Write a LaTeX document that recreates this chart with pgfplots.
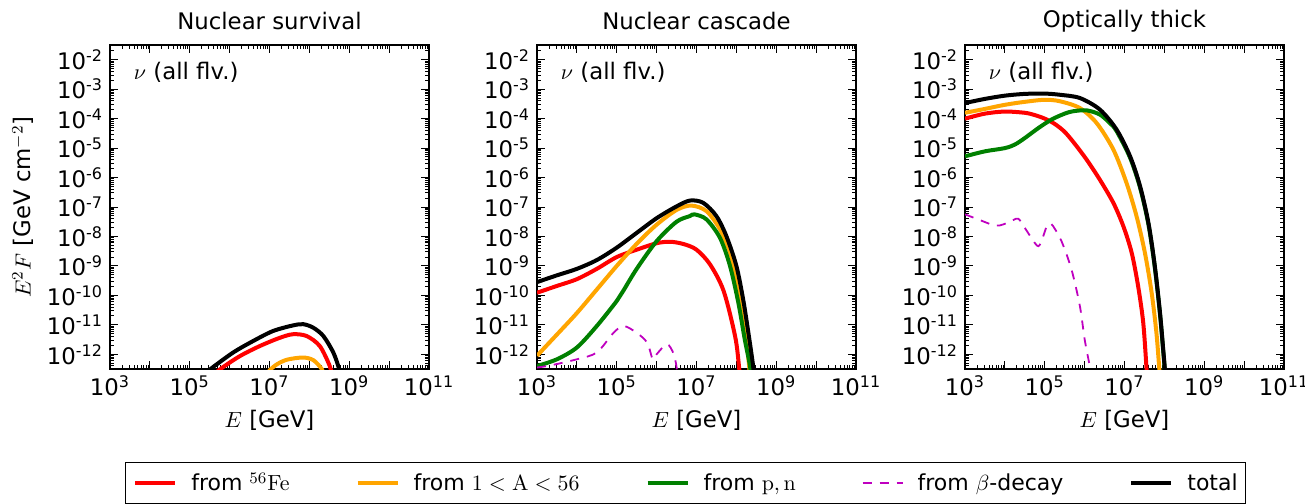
\documentclass[border=0pt]{standalone}
\usepackage[no-math]{fontspec}
\setmainfont{DejaVu Sans}
\usepackage{pgfplots}
\pgfplotsset{compat=1.18}
\definecolor{cRed}{RGB}{255,0,0}
\definecolor{cOrange}{RGB}{255,165,0}
\definecolor{cGreen}{RGB}{0,128,0}
\definecolor{cMag}{rgb}{0.75,0,0.75}
\newcommand{\sfs}{\fontsize{11.4}{13}\selectfont}
\pgfplotsset{every axis/.append style={
    width=159.5pt, height=162pt, scale only axis,
    xmin=1e3, xmax=1e11, ymin=3.1623e-13, ymax=3.1623e-2,
    xtick={1e3,1e4,1e5,1e6,1e7,1e8,1e9,1e10,1e11},
    xticklabels={10\textsuperscript{3},,10\textsuperscript{5},,10\textsuperscript{7},,10\textsuperscript{9},,10\textsuperscript{11}},
    ytick={1e-12,1e-11,1e-10,1e-9,1e-8,1e-7,1e-6,1e-5,1e-4,1e-3,1e-2},
    yticklabels={10\textsuperscript{-12},10\textsuperscript{-11},10\textsuperscript{-10},10\textsuperscript{-9},10\textsuperscript{-8},10\textsuperscript{-7},10\textsuperscript{-6},10\textsuperscript{-5},10\textsuperscript{-4},10\textsuperscript{-3},10\textsuperscript{-2}},
    minor xtick={2e3,3e3,4e3,5e3,6e3,7e3,8e3,9e3,2e4,3e4,4e4,5e4,6e4,7e4,8e4,9e4,2e5,3e5,4e5,5e5,6e5,7e5,8e5,9e5,2e6,3e6,4e6,5e6,6e6,7e6,8e6,9e6,2e7,3e7,4e7,5e7,6e7,7e7,8e7,9e7,2e8,3e8,4e8,5e8,6e8,7e8,8e8,9e8,2e9,3e9,4e9,5e9,6e9,7e9,8e9,9e9,2e10,3e10,4e10,5e10,6e10,7e10,8e10,9e10},
    minor ytick={4e-13,5e-13,6e-13,7e-13,8e-13,9e-13,2e-12,3e-12,4e-12,5e-12,6e-12,7e-12,8e-12,9e-12,2e-11,3e-11,4e-11,5e-11,6e-11,7e-11,8e-11,9e-11,2e-10,3e-10,4e-10,5e-10,6e-10,7e-10,8e-10,9e-10,2e-9,3e-9,4e-9,5e-9,6e-9,7e-9,8e-9,9e-9,2e-8,3e-8,4e-8,5e-8,6e-8,7e-8,8e-8,9e-8,2e-7,3e-7,4e-7,5e-7,6e-7,7e-7,8e-7,9e-7,2e-6,3e-6,4e-6,5e-6,6e-6,7e-6,8e-6,9e-6,2e-5,3e-5,4e-5,5e-5,6e-5,7e-5,8e-5,9e-5,2e-4,3e-4,4e-4,5e-4,6e-4,7e-4,8e-4,9e-4,2e-3,3e-3,4e-3,5e-3,6e-3,7e-3,8e-3,9e-3,2e-2,3e-2},
    tick align=inside, xtick pos=both, ytick pos=both,
    major tick length=4pt, minor tick length=2pt,
    every tick/.style={black, line width=0.5pt},
    axis line style={line width=1pt},
    tick label style={font=\sfs},
    title style={at={(0.5,1.074)}, anchor=center, yshift=-6pt, font=\sfs},
    xlabel={$E$ [GeV]},
    xlabel style={at={(0.5,-0.157)}, anchor=center, font=\sfs},
  },
  every axis plot/.append style={line width=2pt, smooth, tension=0.5},
}
\begin{document}
\begin{tikzpicture}
\useasboundingbox (0,0) rectangle (652.5pt,251.5pt);
% ---------------- Panel 1
\begin{loglogaxis}[at={(55pt,67pt)}, anchor=south west,
  title={Nuclear survival},
  ylabel={$E^2F$ [GeV cm$^{-2}$]},
  ylabel style={at={(-0.273,0.5)}, anchor=center, font=\sfs}]
\addplot[cRed] coordinates {(3.55e5,1.78e-13)(6.31e5,3.39e-13)(1.82e6,8.71e-13)(5.75e6,1.91e-12)(1.82e7,3.63e-12)(3.89e7,4.79e-12)(8.51e7,4.17e-12)(1.82e8,1.91e-12)(3.24e8,3.98e-13)(3.98e8,1.26e-13)};
\addplot[cOrange] coordinates {(7.94e6,1.58e-13)(1e7,2.82e-13)(1.58e7,4.68e-13)(2.82e7,6.61e-13)(6.92e7,7.76e-13)(1.26e8,6.31e-13)(2.04e8,3.16e-13)(2.51e8,1.58e-13)};
\addplot[black] coordinates {(2.0e5,1.78e-13)(3.55e5,3.39e-13)(1.23e6,1.15e-12)(3.89e6,2.82e-12)(1.23e7,6.17e-12)(3.89e7,9.55e-12)(7.08e7,1.05e-11)(1.26e8,7.94e-12)(2.24e8,4.17e-12)(3.98e8,1.15e-12)(5.50e8,3.39e-13)(6.61e8,1.26e-13)};
\node[anchor=west, font=\sfs] at (axis description cs:0.053,0.917) {$\nu$ (all flv.)};
\end{loglogaxis}
% ---------------- Panel 2
\begin{loglogaxis}[at={(268.5pt,67pt)}, anchor=south west,
  title={Nuclear cascade},
  legend columns=5,
  legend style={at={(0.4655,-0.287)}, anchor=north,
    draw=black, line width=0.7pt, font=\fontsize{11}{13}\selectfont,
    inner xsep=4pt, inner ysep=4pt,
    nodes={inner xsep=0pt, inner ysep=1pt},
    /tikz/every odd column/.append style={column sep=7pt},
    /tikz/every even column/.append style={column sep=33pt}},
  legend image code/.code={\draw[#1] (0pt,0pt) -- (20pt,0pt);}]
\addplot[cRed] coordinates {(1e3,1.23e-10)(3.16e3,2.09e-10)(1e4,3.55e-10)(3.16e4,7.94e-10)(1e5,2.0e-9)(3.16e5,3.55e-9)(1e6,5.89e-9)(2.19e6,6.61e-9)(4.79e6,5.50e-9)(1e7,3.55e-9)(2.19e7,1.12e-9)(4.79e7,1.41e-10)(9.33e7,3.98e-12)(1.17e8,3.55e-13)(1.29e8,6.31e-14)};
\addlegendentry{from $^{56}\mathrm{Fe}$}
\addplot[cOrange] coordinates {(1e3,8.91e-13)(3.16e3,4.68e-12)(1e4,2.51e-11)(3.16e4,1.58e-10)(1e5,1e-9)(3.16e5,5.62e-9)(1e6,2.51e-8)(3.16e6,7.94e-8)(7.41e6,1.12e-7)(1.78e7,7.24e-8)(3.89e7,1.74e-8)(6.92e7,2.82e-9)(1.12e8,2.09e-10)(1.62e8,9.12e-12)(2.09e8,3.98e-13)(2.34e8,6.31e-14)};
\addlegendentry{from $1<\mathrm{A}<56$}
\addplot[cGreen] coordinates {(1e3,3.98e-13)(3.16e3,6.76e-13)(1e4,1.70e-12)(3.16e4,9.12e-12)(1e5,6.46e-11)(1.45e5,1.41e-10)(3.16e5,7.94e-10)(1e6,6.92e-9)(3.16e6,3.16e-8)(6.76e6,4.90e-8)(8.91e6,5.62e-8)(1.78e7,3.80e-8)(3.89e7,8.91e-9)(6.92e7,1e-9)(1.12e8,5.62e-11)(1.62e8,3.24e-12)(2.19e8,3.98e-13)(2.51e8,6.31e-14)};
\addlegendentry{from $\mathrm{p,n}$}
\addplot[color=cMag, line width=0.9pt, dash pattern=on 4.5pt off 4pt] coordinates {(1e3,3.55e-13)(2.14e3,4.17e-13)(1e4,6.76e-13)(3.16e4,1.15e-12)(8.32e4,5.37e-12)(1.48e5,9.12e-12)(3.16e5,5.37e-12)(5.75e5,2.51e-12)(7.59e5,7.94e-13)(8.32e5,6.76e-13)(1e6,1e-12)(1.82e6,2.19e-12)(2.69e6,1e-12)(3.31e6,2.51e-13)(3.63e6,6.31e-14)};
\addlegendentry{from $\beta$-decay}
\addplot[black] coordinates {(1e3,2.82e-10)(3.16e3,4.79e-10)(1e4,7.94e-10)(3.16e4,1.58e-9)(1e5,4.17e-9)(3.16e5,1.32e-8)(1e6,4.17e-8)(3.16e6,1.05e-7)(6.92e6,1.66e-7)(1.48e7,1.38e-7)(3.16e7,4.90e-8)(5.62e7,1.02e-8)(1e8,1e-9)(1.48e8,7.24e-11)(2.0e8,5.37e-12)(2.63e8,3.98e-13)(2.95e8,6.31e-14)};
\addlegendentry{total}
\node[anchor=west, font=\sfs] at (axis description cs:0.053,0.917) {$\nu$ (all flv.)};
\end{loglogaxis}
% ---------------- Panel 3
\begin{loglogaxis}[at={(482.5pt,67pt)}, anchor=south west,
  title={Optically thick}]
\addplot[cRed] coordinates {(1e3,1.0e-4)(3.16e3,1.48e-4)(1e4,1.74e-4)(3.16e4,1.58e-4)(5.62e4,1.32e-4)(1e5,1e-4)(1.78e5,6.61e-5)(3.16e5,3.55e-5)(5.62e5,1.41e-5)(1.12e6,4.07e-6)(2.40e6,8.51e-7)(5.25e6,1.38e-7)(9.33e6,2.24e-8)(1.51e7,2.82e-9)(2.19e7,2.09e-10)(2.95e7,1.17e-11)(3.55e7,3.55e-13)(3.80e7,6.31e-14)};
\addplot[cOrange] coordinates {(1e3,1.58e-4)(3.16e3,2.14e-4)(1e4,2.95e-4)(3.16e4,3.72e-4)(1e5,4.37e-4)(2.40e5,3.89e-4)(7.59e5,2.29e-4)(2.0e6,7.08e-5)(5.25e6,8.91e-6)(1.12e7,6.61e-7)(2.0e7,4.90e-8)(3.24e7,2.82e-9)(4.79e7,1.23e-10)(6.31e7,5.37e-12)(7.41e7,3.55e-13)(8.13e7,6.31e-14)};
\addplot[cGreen] coordinates {(1e3,5.25e-6)(3.16e3,7.76e-6)(1e4,1e-5)(1.78e4,1.32e-5)(3.16e4,2.19e-5)(6.92e4,4.79e-5)(1.48e5,9.33e-5)(3.16e5,1.48e-4)(5.13e5,1.78e-4)(1.12e6,1.91e-4)(2.40e6,1.38e-4)(4.27e6,7.08e-5)(6.31e6,3.80e-5)(1.38e7,4.68e-6)(2.45e7,4.57e-7)(3.98e7,2.57e-8)(5.75e7,8.91e-10)(7.76e7,2.29e-11)(9.33e7,1.32e-12)(1.02e8,3.16e-13)(1.12e8,6.31e-14)};
\addplot[color=cMag, line width=0.9pt, dash pattern=on 4.5pt off 4pt] coordinates {(1e3,5.62e-8)(2.14e3,3.80e-8)(5.62e3,2.34e-8)(9.12e3,2.57e-8)(1.58e4,3.55e-8)(2.19e4,3.98e-8)(3.16e4,1.95e-8)(5.62e4,6.03e-9)(6.92e4,4.68e-9)(8.32e4,6.92e-9)(1.12e5,2.24e-8)(1.35e5,2.75e-8)(1.62e5,2.24e-8)(2.63e5,6.92e-9)(4.68e5,7.59e-10)(7.59e5,4.37e-11)(1e6,3.24e-12)(1.29e6,5.25e-13)(1.35e6,3.55e-13)};
\addplot[black] coordinates {(1e3,3.39e-4)(3.16e3,4.68e-4)(1e4,6.03e-4)(3.16e4,6.92e-4)(1e5,7.08e-4)(2.40e5,6.46e-4)(7.59e5,5.01e-4)(2.40e6,2.04e-4)(6.31e6,4.27e-5)(1.38e7,5.25e-6)(2.45e7,5.13e-7)(3.98e7,2.88e-8)(5.75e7,1e-9)(7.76e7,2.57e-11)(9.33e7,1.48e-12)(1.02e8,3.55e-13)(1.12e8,6.31e-14)};
\node[anchor=west, font=\sfs] at (axis description cs:0.053,0.917) {$\nu$ (all flv.)};
\end{loglogaxis}
\end{tikzpicture}
\end{document}
